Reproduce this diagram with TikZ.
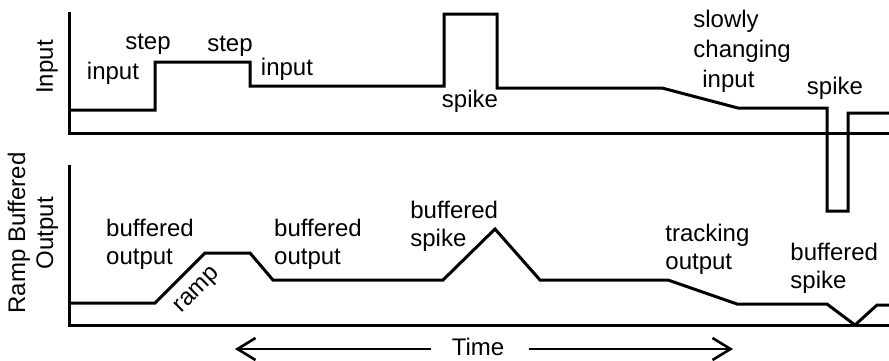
\documentclass[tikz,border=0pt]{standalone}
\usepackage{fontspec}
\setmainfont{Liberation Sans}
\usetikzlibrary{positioning,arrows.meta}

\begin{document}
\begin{tikzpicture}[x=0.5pt,y=-0.5pt,
    axisline/.style={line width=1.5pt},
    signal/.style={line width=1.5pt,line join=miter},
    lbl/.style={font=\fontsize{12}{14}\selectfont,inner sep=0pt,align=left},
    timearrow/.style={line width=1.3pt,-{Straight Barb[length=9pt,width=11pt]}}]
  \useasboundingbox (0,0) rectangle (889,360);
  % top panel: input
  \draw[axisline] (69,12) -- (69,133) -- (889,133);
  \draw[signal] (69,110) -- (155,110) -- (155,62) -- (250,62) -- (250,86)
    -- (444,86) -- (444,14) -- (497,14) -- (497,88) -- (662,88) -- (738,108)
    -- (827,108) -- (827,211) -- (848,211) -- (848,113) -- (889,113);
  \node[lbl,rotate=90] (inlabel) at (47,67) {Input};
  \node[lbl] (input1) at (113,73) {input};
  \node[lbl] (step1) at (148,44) {step};
  \node[lbl] (step2) at (230,46) {step};
  \node[lbl] (input2) at (287,69) {input};
  \node[lbl] (spike1) at (470,101) {spike};
  \node[lbl,anchor=west] (slow) at (693,51) {slowly\\[1pt]changing\\[1pt]\hspace{4.5pt}input};
  \node[lbl] (spike2) at (835,88) {spike};
  % bottom panel: ramp buffered output
  \draw[axisline] (69,165) -- (69,325) -- (889,325);
  \draw[signal] (69,303) -- (155,303) -- (205,253) -- (250,253) -- (273,280)
    -- (443,280) -- (495,229) -- (540,280) -- (668,280) -- (737,304)
    -- (827,304) -- (855,325) -- (877,305) -- (889,305);
  \node[lbl,rotate=90,align=center] (outlabel) at (33,233) {Ramp Buffered\\Output};
  \node[lbl] (bout1) at (150,244) {buffered\\output};
  \node[lbl,rotate=45] (ramp) at (198,291) {ramp};
  \node[lbl] (bout2) at (318,244) {buffered\\output};
  \node[lbl,anchor=west] (bspike1) at (410,226) {buffered\\spike};
  \node[lbl,anchor=west] (track) at (665,249) {tracking\\output};
  \node[lbl,anchor=west] (bspike2) at (790,268) {buffered\\spike};
  % time axis
  \node[lbl] (time) at (478,347) {Time};
  \coordinate (tleft) at (235,349);
  \coordinate (tright) at (733,349);
  \draw[timearrow] ([xshift=-10pt,yshift=-1pt]time.west) -- (tleft);
  \draw[timearrow] ([xshift=12pt,yshift=-1pt]time.east) -- (tright);
\end{tikzpicture}
\end{document}
